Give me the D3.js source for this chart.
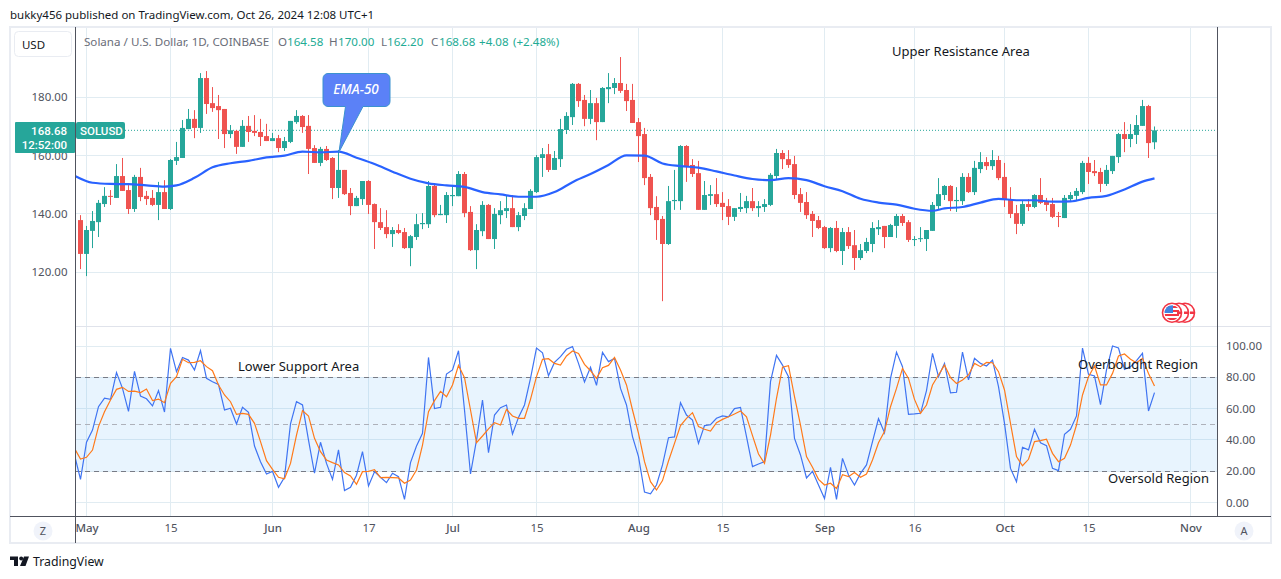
<!DOCTYPE html>
<html>
<head>
<meta charset="utf-8">
<style>
  html, body { margin: 0; padding: 0; background: #fff; }
  svg { display: block; }
  text { font-family: "Noto Sans", sans-serif; }
</style>
<script src="https://cdnjs.cloudflare.com/ajax/libs/d3/7.8.5/d3.min.js"></script>
</head>
<body>
<svg id="chart" width="1281" height="579"></svg>
<script>
// daily candles, Apr 30 to Oct 26 2024
const firstBar = new Date(Date.UTC(2024, 3, 30));
const opens = [
  137.9,126.3,134.2,137.2,143.4,146.2,145.5,153.0,148.2,141.7,
  152.7,146.2,145.5,143.1,147.5,141.7,158.2,159.2,169.1,172.6,
  169.5,186.6,178.0,177.0,176.0,167.4,168.5,163.0,170.2,168.5,
  168.1,166.7,165.0,166.0,162.6,164.7,171.5,173.6,170.2,162.6,
  157.5,162.3,159.2,148.9,155.1,147.2,142.7,145.1,151.3,143.4,
  137.2,135.5,133.1,134.5,133.8,128.3,132.1,136.5,136.5,149.6,
  139.6,139.6,146.1,146.1,153.7,140.7,127.6,134.1,143.1,131.4,
  139.6,141.0,142.0,135.5,139.3,141.7,147.5,159.2,160.5,155.1,
  158.8,168.8,173.2,184.6,179.1,172.6,178.0,171.5,182.8,183.2,
  184.9,182.5,179.1,171.5,167.4,152.7,142.4,138.3,129.7,144.4,
  144.4,163.3,156.8,154.0,141.4,146.2,146.8,143.8,142.7,139.0,
  141.7,142.0,144.4,142.0,142.4,143.1,153.0,160.9,158.8,157.1,
  146.8,144.1,140.0,137.9,135.5,128.3,135.2,127.3,133.8,129.3,
  124.9,127.3,129.7,134.8,135.9,132.1,135.9,139.3,137.2,131.1,
  131.4,131.4,134.2,142.7,146.5,149.6,144.4,144.4,152.7,147.5,
  155.4,157.8,156.4,158.5,152.7,145.1,140.3,136.6,143.4,142.4,
  146.5,144.4,143.4,139.3,138.6,145.1,146.2,147.5,157.5,154.7,
  154.4,150.3,154.7,159.5,167.4,165.7,167.1,170.2,177.0,164.58
];
const highs = [
  139.6,135.9,141.0,144.8,149.2,148.2,157.1,159.2,149.9,153.4,
  155.8,147.9,148.2,151.0,151.6,158.8,164.7,172.2,176.0,175.6,
  188.3,189.0,183.5,180.8,176.0,170.5,168.8,172.2,173.6,173.9,
  172.6,170.9,167.8,167.1,166.4,171.9,175.6,173.9,173.9,163.6,
  163.0,163.3,159.5,161.9,155.1,148.9,146.2,151.3,151.6,143.6,
  142.0,141.3,135.5,136.5,135.2,132.8,140.0,140.3,151.3,150.2,
  143.1,147.5,149.6,154.7,154.4,142.7,136.5,144.4,143.4,142.0,
  144.4,146.5,146.5,140.7,143.7,148.5,160.2,162.6,164.0,161.6,
  172.6,174.9,184.9,184.9,180.8,182.5,179.8,183.5,188.3,186.6,
  193.8,184.6,184.6,172.9,169.5,153.7,146.1,139.3,149.6,155.1,
  163.6,163.6,158.8,158.2,151.3,149.9,152.3,147.5,145.1,142.0,
  147.2,146.2,148.9,144.4,145.1,154.0,162.3,161.9,161.9,159.9,
  148.9,147.5,141.0,139.3,135.9,135.5,137.6,135.2,135.5,134.5,
  129.7,131.8,137.2,137.9,135.9,136.6,140.0,140.0,137.9,132.4,
  135.5,134.5,144.1,152.3,149.9,149.9,149.2,154.0,154.0,158.2,
  161.2,159.5,161.9,159.9,157.5,149.2,143.1,144.8,145.1,146.8,
  152.3,145.5,145.5,140.7,146.5,147.5,148.9,158.2,159.5,158.5,
  155.8,156.8,159.9,167.8,171.5,170.8,173.9,179.1,177.4,170.0
];
const lows = [
  121.1,118.7,128.3,132.1,142.4,143.1,145.5,147.9,140.0,140.7,
  144.4,143.1,142.7,137.9,141.7,141.4,156.8,159.2,169.1,166.0,
  167.8,174.3,175.0,165.7,162.6,166.0,160.6,163.0,164.7,166.7,
  163.3,165.0,165.0,161.2,161.6,164.3,170.9,167.8,153.7,157.5,
  156.4,158.2,145.1,145.5,146.5,139.6,142.7,143.1,140.0,128.0,
  134.5,131.7,128.7,133.1,128.0,122.1,131.1,134.8,135.2,138.9,
  139.6,136.9,142.7,146.1,138.9,127.3,121.1,132.4,131.4,128.0,
  136.5,138.6,135.5,134.1,137.9,141.7,147.2,152.7,154.4,155.1,
  156.1,167.4,170.5,176.7,170.1,170.8,165.3,171.5,178.0,181.1,
  181.5,175.3,171.2,157.8,149.9,139.6,131.1,110.1,129.4,141.4,
  141.4,151.0,152.7,141.4,141.4,143.1,142.4,137.9,136.2,137.6,
  140.7,140.3,141.0,139.0,140.7,142.7,152.0,155.4,155.8,145.1,
  140.7,138.3,132.1,134.8,128.0,126.9,126.9,122.5,128.0,120.8,
  124.2,126.6,126.9,132.8,128.3,132.1,131.8,135.9,130.4,129.0,
  130.4,127.3,134.2,141.4,144.8,141.0,140.7,143.1,147.2,146.5,
  154.0,155.1,155.1,151.6,142.4,138.6,133.1,135.9,141.0,142.0,
  143.4,141.0,138.6,135.5,138.6,144.4,144.4,146.8,150.3,153.0,
  147.5,149.6,153.7,157.5,161.2,162.9,164.0,170.2,159.2,162.2
];
const closes = [
  126.3,134.5,137.6,143.8,146.2,145.9,153.0,147.9,141.7,152.7,
  145.8,145.1,143.1,147.5,141.7,158.5,159.5,169.5,172.6,169.5,
  186.6,177.7,176.3,175.6,167.4,168.7,163.0,170.2,168.1,167.8,
  166.4,165.0,166.0,162.6,165.0,171.9,173.6,169.8,162.3,157.5,
  162.3,158.5,148.9,155.1,146.8,142.7,145.5,151.3,143.1,137.2,
  135.2,133.1,134.5,133.5,128.3,132.4,136.5,136.9,149.6,139.6,
  140.0,146.5,146.5,153.7,140.3,127.6,134.5,143.1,131.4,140.0,
  141.3,142.0,135.5,139.6,142.0,147.9,159.5,160.5,155.1,159.2,
  169.1,173.6,184.6,178.7,172.6,178.0,171.5,183.2,183.5,184.9,
  182.2,178.7,171.2,166.7,152.3,142.0,137.9,129.7,144.4,144.8,
  163.3,156.1,153.7,141.4,146.5,146.8,143.4,142.4,139.0,142.0,
  142.4,144.4,142.0,142.7,143.4,153.4,160.9,158.8,156.8,146.5,
  143.8,139.6,137.6,135.2,128.3,135.2,127.3,133.8,129.0,124.9,
  127.6,130.4,135.2,135.5,132.1,136.2,139.3,136.9,131.1,131.4,
  131.7,134.5,143.1,146.8,149.6,144.4,144.8,152.7,147.5,155.8,
  157.8,156.4,158.5,152.3,144.8,140.0,136.6,143.4,142.4,146.5,
  143.8,143.1,139.0,139.0,145.5,146.5,147.9,157.5,154.4,154.0,
  150.3,155.1,159.9,167.4,165.7,167.4,170.5,177.0,164.3,168.68
];

// EMA-50, read every third bar or so (bar number counted from firstBar)
const emaBars = [-1,2,5,8,11,14,16,19,22,25,28,31,34,37,40,43,46,49,52,55,58,61,64,67,70,73,76,79,82,85,88,91,94,97,
  100,103,106,109,112,115,118,121,124,127,130,133,136,139,142,144,147,150,153,156,159,162,165,168,171,174,177,179];
const emaValues = [153.1,150.7,150.3,150.2,149.8,149.4,149.8,152.4,156.0,157.4,158.2,159.4,160.0,161.4,161.1,161.4,159.3,157.1,154.5,152.1,150.5,149.8,149.3,147.5,146.7,145.9,145.9,147.5,150.9,153.7,156.8,160.1,160.0,157.3,
  156.4,155.9,154.6,153.2,152.0,151.6,152.3,151.6,149.5,147.8,145.2,143.9,143.2,141.8,141.1,141.9,142.4,143.9,145.2,144.7,144.7,144.2,144.3,145.5,146.2,148.4,151.1,152.2];

// stochastic RSI, starts one bar before firstBar (the left edge clips it)
const stochK = [30.4,
  14.8,38.5,46.3,61.2,66.6,65.9,83.0,72.9,58.2,83.8,
  68.0,66.3,61.7,71.5,57.8,98.5,83.6,92.7,91.0,84.7,
  97.0,79.3,77.2,75.5,59.1,60.2,50.2,60.8,57.6,36.1,
  26.1,18.2,19.9,9.7,16.1,50.2,64.4,62.3,39.9,18.7,
  38.5,25.0,14.8,33.6,7.6,9.7,17.4,32.5,10.6,19.7,
  16.1,12.7,18.7,16.5,2.0,25.5,36.1,44.2,92.7,60.0,
  60.8,82.1,84.7,97.0,59.1,18.2,39.9,65.5,31.9,55.9,
  60.6,62.3,43.8,54.4,62.3,79.3,98.7,95.7,81.0,89.5,
  93.2,97.9,99.6,88.9,77.0,86.4,74.9,95.9,90.0,92.1,
  72.9,62.3,42.1,29.3,6.7,5.5,11.2,24.0,41.4,41.9,
  63.8,55.9,52.7,37.8,49.1,49.7,53.8,55.3,54.8,60.0,
  60.8,42.1,22.9,24.6,26.1,77.2,94.0,87.8,80.4,41.0,
  30.4,15.7,19.9,11.2,2.5,22.5,2.0,28.2,17.6,11.2,
  18.6,24.0,38.9,53.6,44.6,79.3,96.1,86.8,56.3,56.6,
  57.0,71.5,95.3,80.4,88.9,70.0,70.4,96.1,78.3,92.1,
  88.9,87.2,91.0,74.0,50.6,21.8,13.3,35.3,33.6,46.8,
  38.2,36.3,21.8,20.4,43.6,46.8,55.3,98.7,81.9,80.8,
  62.5,84.7,100,98.7,85.1,86.8,90.6,95.3,58.5,70.2
];
const stochD = [34.6,
  27.8,28.9,33.5,48.5,58.0,65.5,72.3,73.6,71.0,71.2,
  70.2,72.5,65.1,66.1,63.8,76.1,80.4,91.5,89.3,89.5,
  90.6,86.8,84.2,75.1,68.7,64.4,56.3,57.0,56.3,50.6,
  38.9,26.7,21.2,16.1,15.2,25.0,43.1,58.7,55.3,41.0,
  32.5,27.2,25.5,24.0,19.1,17.0,11.6,19.7,19.9,21.0,
  15.9,16.1,15.9,15.7,12.3,14.4,20.8,36.7,58.0,65.1,
  71.0,67.6,75.1,87.6,79.8,59.1,38.2,42.5,47.0,51.0,
  49.5,59.5,55.3,53.8,53.8,65.9,80.4,91.5,91.9,88.9,
  87.8,93.6,96.8,95.3,88.3,84.2,79.3,86.1,87.6,92.7,
  84.7,75.1,59.1,44.2,26.1,13.3,8.0,14.0,26.5,37.8,
  49.1,53.8,57.4,48.5,46.8,45.7,51.0,53.1,54.8,56.6,
  58.5,54.8,42.7,31.0,25.0,43.1,66.6,86.4,87.4,67.6,
  49.5,29.3,22.5,14.8,11.2,12.3,8.9,17.8,16.5,19.1,
  16.1,18.2,27.2,38.2,45.3,61.2,72.9,85.7,79.3,65.9,
  57.0,62.3,75.1,81.5,87.8,79.8,76.1,78.3,81.5,88.9,
  86.8,89.5,89.3,83.6,71.9,50.6,29.3,23.5,27.6,38.9,
  39.5,40.4,31.4,26.1,28.2,36.7,49.5,68.7,80.4,87.2,
  75.1,75.1,82.5,93.6,94.9,91.5,89.3,92.1,82.5,74.4
];

const priceTicks = [120, 140, 160, 180];
const stochTicks = [0, 20, 40, 60, 80, 100];
const stochLevels = [80, 50, 20];
const lastPrice = 168.68;
const dateTicks = [
  { date: [2024, 4, 1], label: "May", month: true },
  { date: [2024, 4, 15], label: "15" },
  { date: [2024, 5, 1], label: "Jun", month: true },
  { date: [2024, 5, 17], label: "17" },
  { date: [2024, 6, 1], label: "Jul", month: true },
  { date: [2024, 6, 15], label: "15" },
  { date: [2024, 7, 1], label: "Aug", month: true },
  { date: [2024, 7, 15], label: "15" },
  { date: [2024, 8, 1], label: "Sep", month: true },
  { date: [2024, 8, 16], label: "16" },
  { date: [2024, 9, 1], label: "Oct", month: true },
  { date: [2024, 9, 15], label: "15" },
  { date: [2024, 10, 1], label: "Nov", month: true }
];

const green = "#26a69a", red = "#ef5350", legendTeal = "#22ab94";
const axisDark = "#50535e", gridColor = "#e1ecf2", frameColor = "#e9ecf2";
const left = 75.5, right = 1217.5, paneTop = 27, paneSplit = 326.5, paneBottom = 516.5;

const svg = d3.select("#chart");
const barDate = i => d3.utcDay.offset(firstBar, i);
const tickDates = dateTicks.map(d => new Date(Date.UTC(...d.date)));

const x = d3.scaleUtc()
    .domain([new Date(Date.UTC(2024, 4, 1)), new Date(Date.UTC(2024, 10, 1))])
    .range([86.5, 1190.5]);
const yPrice = d3.scaleLinear().domain([120, 180]).range([272.3, 97.3]);
const yStoch = d3.scaleLinear().domain([0, 100]).range([502.5, 346]);

// clip for both panes
const defs = svg.append("defs");
defs.append("clipPath").attr("id", "clip-top").append("rect")
    .attr("x", left).attr("y", paneTop).attr("width", right - left).attr("height", paneSplit - paneTop);
defs.append("clipPath").attr("id", "clip-bottom").append("rect")
    .attr("x", left).attr("y", paneSplit).attr("width", right - left).attr("height", paneBottom - paneSplit);

// header line
svg.append("text").attr("x", 10).attr("y", 19).attr("font-size", 11.5).attr("fill", "#131722")
    .text("bukky456 published on TradingView.com, Oct 26, 2024 12:08 UTC+1");

// grid
const grid = svg.append("g").attr("shape-rendering", "crispEdges").attr("stroke", gridColor);
grid.selectAll(".vgrid").data(tickDates).join("line")
    .attr("x1", d => x(d)).attr("x2", d => x(d)).attr("y1", paneTop).attr("y2", paneBottom);
grid.selectAll(".hprice").data(priceTicks).join("line")
    .attr("x1", left).attr("x2", right).attr("y1", d => yPrice(d)).attr("y2", d => yPrice(d));
grid.selectAll(".hstoch").data(stochTicks).join("line")
    .attr("x1", left).attr("x2", right).attr("y1", d => yStoch(d)).attr("y2", d => yStoch(d));

// last price line
svg.append("line").attr("x1", 125).attr("x2", right)
    .attr("y1", yPrice(lastPrice)).attr("y2", yPrice(lastPrice))
    .attr("stroke", green).attr("stroke-dasharray", "1 2");

// candles
const bars = d3.range(opens.length);
const candles = svg.append("g").attr("clip-path", "url(#clip-top)");
candles.selectAll(".wick").data(bars).join("rect")
    .attr("x", i => x(barDate(i)) - 0.5).attr("width", 1)
    .attr("y", i => yPrice(highs[i]))
    .attr("height", i => yPrice(lows[i]) - yPrice(highs[i]))
    .attr("fill", i => closes[i] >= opens[i] ? green : red);
candles.selectAll(".body").data(bars).join("rect")
    .attr("x", i => x(barDate(i)) - 2.5).attr("width", 5)
    .attr("y", i => yPrice(Math.max(opens[i], closes[i])))
    .attr("height", i => Math.max(1, Math.abs(yPrice(opens[i]) - yPrice(closes[i]))))
    .attr("fill", i => closes[i] >= opens[i] ? green : red);

// EMA-50
const emaLine = d3.line()
    .x((d, i) => x(barDate(emaBars[i])))
    .y(d => yPrice(d))
    .curve(d3.curveMonotoneX);
candles.append("path").datum(emaValues).attr("d", emaLine)
    .attr("fill", "none").attr("stroke", "#2962ff").attr("stroke-width", 2.2);

// stochastic pane
const stochPane = svg.append("g").attr("clip-path", "url(#clip-bottom)");
stochPane.append("rect").attr("x", left).attr("width", right - left)
    .attr("y", yStoch(80)).attr("height", yStoch(20) - yStoch(80))
    .attr("fill", "#2196f3").attr("fill-opacity", 0.1);
stochPane.selectAll(".level").data(stochLevels).join("line")
    .attr("x1", left).attr("x2", right)
    .attr("y1", d => yStoch(d)).attr("y2", d => yStoch(d))
    .attr("stroke", d => d === 50 ? "#aeb1ba" : "#787b86")
    .attr("stroke-dasharray", "5 4").attr("shape-rendering", "crispEdges");
const stochLine = d3.line().x((d, i) => x(barDate(i - 1))).y(d => yStoch(d));
stochPane.append("path").datum(stochK).attr("d", stochLine)
    .attr("fill", "none").attr("stroke", "#3f74f2").attr("stroke-width", 1.2);
stochPane.append("path").datum(stochD).attr("d", stochLine)
    .attr("fill", "none").attr("stroke", "#ff7a1a").attr("stroke-width", 1.2);

// frame and pane separators
const frame = svg.append("g").attr("shape-rendering", "crispEdges");
frame.append("rect").attr("x", 10).attr("y", 27).attr("width", 1261).attr("height", 516)
    .attr("fill", "none").attr("stroke", frameColor).attr("stroke-width", 2);
frame.append("line").attr("x1", left).attr("x2", 1271).attr("y1", paneSplit).attr("y2", paneSplit).attr("stroke", "#e0e3eb");
frame.append("line").attr("x1", 10).attr("x2", 1271).attr("y1", paneBottom).attr("y2", paneBottom).attr("stroke", axisDark);
frame.append("line").attr("x1", left).attr("x2", left).attr("y1", paneTop).attr("y2", 543).attr("stroke", axisDark);
frame.append("line").attr("x1", right).attr("x2", right).attr("y1", paneTop).attr("y2", paneBottom).attr("stroke", axisDark);

// axes
function styleAxis(g) {
    g.select(".domain").remove();
    g.selectAll("text").attr("fill", axisDark).attr("font-size", 11.5)
        .style("font-family", '"Noto Sans", sans-serif');
}
svg.append("g").attr("transform", `translate(${left},0)`)
    .call(d3.axisLeft(yPrice).tickValues(priceTicks).tickSize(0).tickPadding(8).tickFormat(d3.format(".2f")))
    .call(styleAxis);
svg.append("g").attr("transform", `translate(${right},0)`)
    .call(d3.axisRight(yStoch).tickValues(stochTicks).tickSize(0).tickPadding(8.5).tickFormat(d3.format(".2f")))
    .call(styleAxis);
svg.append("g").attr("transform", `translate(0,${paneBottom})`)
    .call(d3.axisBottom(x).tickValues(tickDates).tickSize(0).tickPadding(7).tickFormat((d, i) => dateTicks[i].label))
    .call(styleAxis)
    .selectAll("text").attr("font-weight", (d, i) => dateTicks[i].month ? 500 : 400);

// price label on the left axis
svg.append("rect").attr("x", 76).attr("y", 122).attr("width", 49).attr("height", 17).attr("rx", 2).attr("fill", green);
svg.append("rect").attr("x", 15).attr("y", 122).attr("width", 60).attr("height", 31).attr("rx", 1).attr("fill", green);
const labelFont = "Roboto, sans-serif";
svg.append("text").attr("x", 67).attr("y", 135).attr("text-anchor", "end").attr("font-size", 11.5)
    .attr("font-weight", 500).attr("fill", "#fff").style("font-family", labelFont).text(lastPrice.toFixed(2));
svg.append("text").attr("x", 67).attr("y", 149).attr("text-anchor", "end").attr("font-size", 11.5)
    .attr("font-weight", 500).attr("fill", "#fff").style("font-family", labelFont).text("12:52:00");
svg.append("text").attr("x", 80).attr("y", 135).attr("font-size", 11.5)
    .attr("font-weight", 500).attr("fill", "#fff").style("font-family", labelFont).text("SOLUSD");

// currency button
svg.append("rect").attr("x", 14.5).attr("y", 31.5).attr("width", 57).attr("height", 25).attr("rx", 4)
    .attr("fill", "#fff").attr("stroke", "#e9ecf2");
svg.append("text").attr("x", 33.5).attr("y", 48.5).attr("text-anchor", "middle").attr("font-size", 11.5).attr("fill", "#131722").text("USD");

// legend
const legendParts = [
    { x: 84, text: "Solana / U.S. Dollar, 1D, COINBASE", fill: "#6a6d78" },
    { x: 278, text: "O", fill: "#6a6d78" }, { x: 287, text: "164.58", fill: legendTeal },
    { x: 329, text: "H", fill: "#6a6d78" }, { x: 338, text: "170.00", fill: legendTeal },
    { x: 381, text: "L", fill: "#6a6d78" }, { x: 387, text: "162.20", fill: legendTeal },
    { x: 431, text: "C", fill: "#6a6d78" }, { x: 439, text: "168.68", fill: legendTeal },
    { x: 479, text: "+4.08", fill: legendTeal }, { x: 513, text: "(+2.48%)", fill: legendTeal }
];
svg.selectAll(".legend").data(legendParts).join("text")
    .attr("x", d => d.x).attr("y", 46).attr("font-size", 11.6).attr("fill", d => d.fill).text(d => d.text);

// text annotations
const notes = [
    { x: 892, y: 56, text: "Upper Resistance Area" },
    { x: 238, y: 371, text: "Lower Support Area" },
    { x: 1078, y: 369, text: "Overbought Region" },
    { x: 1108, y: 483, text: "Oversold Region" }
];
svg.selectAll(".note").data(notes).join("text")
    .attr("x", d => d.x).attr("y", d => d.y).attr("font-size", 13).attr("fill", "#131722").text(d => d.text);

// EMA-50 callout
svg.append("path")
    .attr("d", "M328,73.5H385a5,5 0 0 1 5,5V101.5a5,5 0 0 1 -5,5H363L339,152L345.5,106.5H328a5,5 0 0 1 -5,-5V78.5a5,5 0 0 1 5,-5Z")
    .attr("fill", "#5b81f7").attr("stroke", "#3b92cf");
svg.append("text").attr("x", 356).attr("y", 94).attr("text-anchor", "middle")
    .attr("font-size", 13.5).attr("font-style", "italic").attr("font-weight", 500).attr("fill", "#fff").text("EMA-50");

// currency flags
const flags = svg.append("g");
[1185, 1179, 1172].forEach(cx => {
    flags.append("circle").attr("cx", cx).attr("cy", 312.7).attr("r", 9.5)
        .attr("fill", "#fff").attr("stroke", "#f23645").attr("stroke-width", 1.6);
    flags.append("rect").attr("x", cx + 5).attr("y", 311.5).attr("width", 4.5).attr("height", 2.5).attr("fill", "#f23645");
});
flags.append("clipPath").attr("id", "flag-clip").append("circle").attr("cx", 1172).attr("cy", 312.7).attr("r", 7.5);
const flag = flags.append("g").attr("clip-path", "url(#flag-clip)");
[306, 310, 314, 318].forEach(y => {
    flag.append("rect").attr("x", 1164).attr("y", y).attr("width", 16).attr("height", 2).attr("fill", "#f23645");
});
flag.append("rect").attr("x", 1164).attr("y", 305).attr("width", 9).attr("height", 8).attr("fill", "#4285e0");

// scale mode buttons
[{ cx: 43, t: "Z" }, { cx: 1244, t: "A" }].forEach(b => {
    svg.append("circle").attr("cx", b.cx).attr("cy", 531).attr("r", 9.5).attr("fill", "#f0f3fa");
    svg.append("text").attr("x", b.cx).attr("y", 535).attr("text-anchor", "middle")
        .attr("font-size", 11).attr("fill", axisDark).text(b.t);
});

// footer logo
svg.append("path").attr("d", "M10,556.5H18V566H14V560H10ZM24,556.5H29L25.5,566H20Z").attr("fill", "#131722");
svg.append("circle").attr("cx", 21.2).attr("cy", 558.5).attr("r", 2).attr("fill", "#131722");
svg.append("text").attr("x", 33).attr("y", 566).attr("font-size", 12.3).attr("fill", "#131722").text("TradingView");
</script>
</body>
</html>
